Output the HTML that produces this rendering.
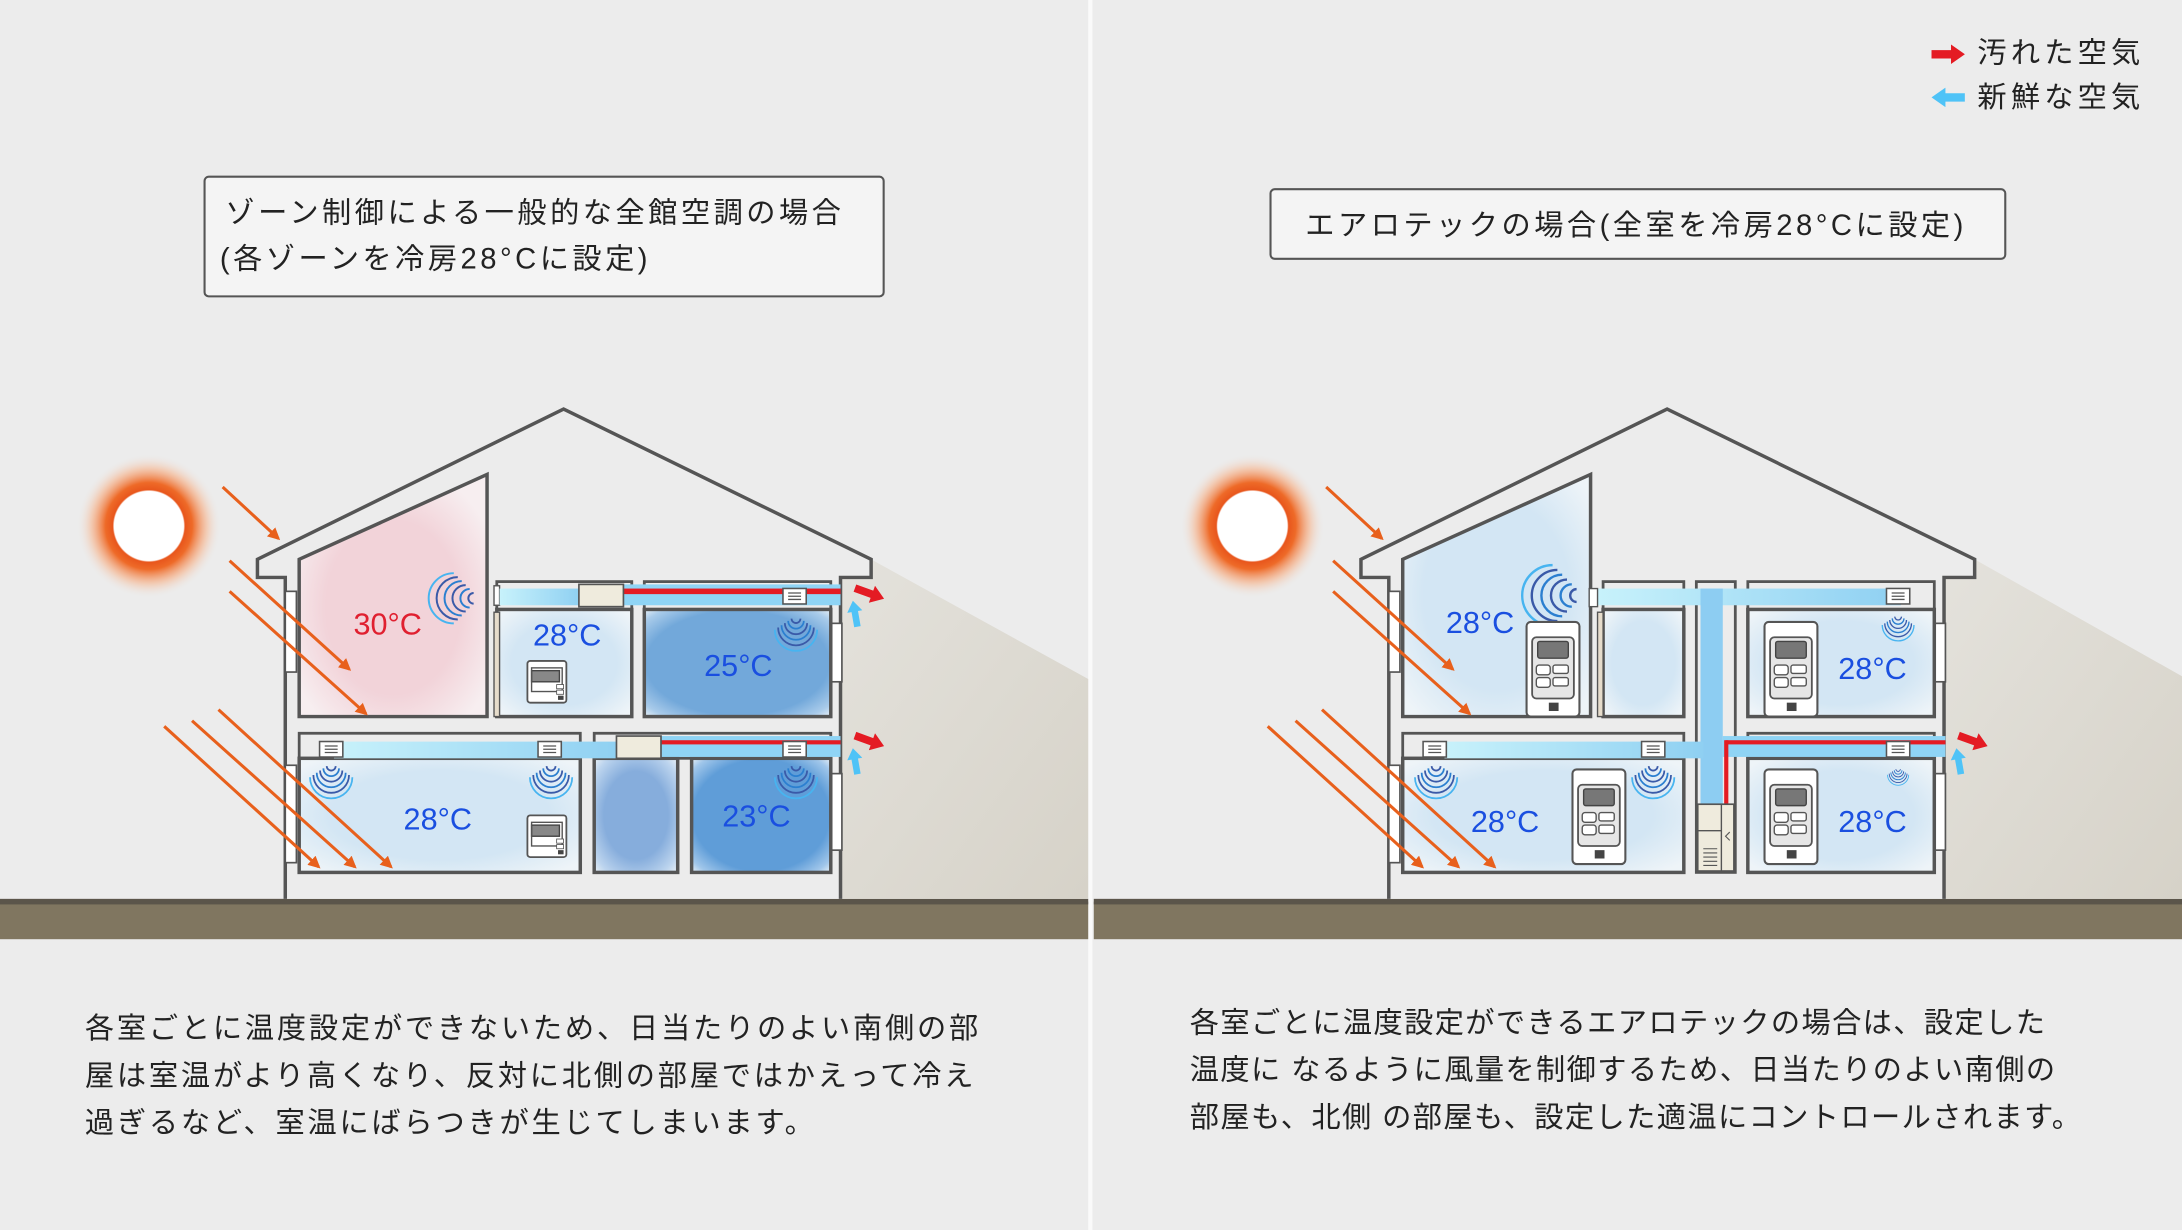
<!DOCTYPE html>
<html><head><meta charset="utf-8"><style>
html,body{margin:0;padding:0;background:#ececec;}
svg{display:block;}
text{font-family:"Liberation Sans","Noto Sans CJK JP",sans-serif;}
</style></head><body>
<svg width="2182" height="1230" viewBox="0 0 1568 884" preserveAspectRatio="none" xmlns="http://www.w3.org/2000/svg">
<defs>
<radialGradient id="sun"><stop offset="0.48" stop-color="#fff"/><stop offset="0.5" stop-color="#e8561c"/><stop offset="0.6" stop-color="#ee6a28"/><stop offset="0.8" stop-color="#f6b690" stop-opacity="0.6"/><stop offset="1" stop-color="#ececec" stop-opacity="0"/></radialGradient>
<linearGradient id="shadow" x1="0" y1="0" x2="1" y2="1"><stop offset="0" stop-color="#e4e2dc"/><stop offset="1" stop-color="#d6d2c8"/></linearGradient>
<radialGradient id="pink" cx="0.5" cy="0.55" r="0.6"><stop offset="0.6" stop-color="#f2d3d9"/><stop offset="1" stop-color="#f7eef0"/></radialGradient>
<radialGradient id="lb" r="0.65"><stop offset="0.6" stop-color="#d3e6f4"/><stop offset="1" stop-color="#eef4f8"/></radialGradient>
<radialGradient id="db" r="0.7"><stop offset="0.7" stop-color="#72a8da"/><stop offset="0.9" stop-color="#a9cbea"/><stop offset="1" stop-color="#e4eef6"/></radialGradient>
<radialGradient id="db2" r="0.7"><stop offset="0.7" stop-color="#5f9dd8"/><stop offset="0.9" stop-color="#a0c6ea"/><stop offset="1" stop-color="#e4eef6"/></radialGradient>
<radialGradient id="mb" r="0.7"><stop offset="0.55" stop-color="#86addc"/><stop offset="0.85" stop-color="#bcd4ee"/><stop offset="1" stop-color="#e8f0f6"/></radialGradient>
<linearGradient id="duct" x1="0" x2="1"><stop offset="0" stop-color="#c8f2fb"/><stop offset="1" stop-color="#8fd0f2"/></linearGradient>
<marker id="ah" viewBox="0 0 10 10" refX="8" refY="5" markerWidth="4" markerHeight="4" orient="auto"><path d="M0,0 L10,5 L0,10 z" fill="#e8601c"/></marker>
<symbol id="ctl" viewBox="0 0 40 70">
<rect x="1" y="1" width="38" height="68" rx="3" fill="#fff" stroke="#555" stroke-width="1.5"/>
<rect x="5" y="12" width="30" height="44" rx="3" fill="#e6e6e6" stroke="#555" stroke-width="1.3"/>
<rect x="9" y="15" width="22" height="12" rx="1.5" fill="#777" stroke="#444"/>
<rect x="8" y="32" width="10" height="7" rx="2" fill="#fff" stroke="#555"/><rect x="8" y="41" width="10" height="7" rx="2" fill="#fff" stroke="#555"/>
<rect x="20" y="32" width="11" height="6" rx="1.5" fill="#fff" stroke="#555"/><rect x="20" y="41" width="11" height="6" rx="1.5" fill="#fff" stroke="#555"/>
<rect x="17" y="59" width="7" height="6" fill="#444"/>
</symbol>
<symbol id="th" viewBox="0 0 30 32">
<rect x="1" y="1" width="28" height="30" rx="2" fill="#fff" stroke="#555" stroke-width="1.3"/>
<rect x="4" y="8" width="20" height="8" fill="#888" stroke="#444"/>
<rect x="4" y="6" width="22" height="17" fill="none" stroke="#555"/>
<rect x="22" y="18" width="5" height="3" fill="#fff" stroke="#555" stroke-width=".6"/>
<rect x="22" y="22" width="5" height="3" fill="#fff" stroke="#555" stroke-width=".6"/>
<rect x="23" y="26" width="4" height="3" fill="#444"/>
</symbol>
<symbol id="grille" viewBox="0 0 20 14"><rect x="1" y="1" width="18" height="12" fill="#fff" stroke="#555" stroke-width="1.2"/><path d="M5,4.5H15M5,7H15M5,9.5H15" stroke="#555" stroke-width="1"/></symbol>
<symbol id="wave" viewBox="0 0 40 30" overflow="visible">
<g fill="none" stroke-width="1.6">
<path d="M16,2 A4,4 0 0 0 24,2" stroke="#3a5aa8"/>
<path d="M13,4 A7,7 0 0 0 27,4" stroke="#2b7fd0"/>
<path d="M10,6 A10,10 0 0 0 30,6" stroke="#3a5aa8"/>
<path d="M7,8 A13,13 0 0 0 33,8" stroke="#2b7fd0"/>
<path d="M4,10 A16,16 0 0 0 36,10" stroke="#3a5aa8"/>
<path d="M1,12 A19,19 0 0 0 39,12" stroke="#47b4f0"/>
</g></symbol>
<symbol id="swave" viewBox="0 0 30 40" overflow="visible">
<g fill="none" stroke-width="1.5">
<path d="M28,16 A4,4 0 0 0 28,24" stroke="#3a5aa8"/>
<path d="M25,13 A7,7 0 0 0 25,27" stroke="#2b7fd0"/>
<path d="M22,10 A10,10 0 0 0 22,30" stroke="#3a5aa8"/>
<path d="M19,7 A13,13 0 0 0 19,33" stroke="#2b7fd0"/>
<path d="M16,4 A16,16 0 0 0 16,36" stroke="#3a5aa8"/>
<path d="M13,1 A19,19 0 0 0 13,39" stroke="#47b4f0"/>
</g></symbol>
<symbol id="redarr" viewBox="0 0 24 14"><path d="M0,4 H14 V0 L24,7 L14,14 V10 H0 z" fill="#e41b23"/></symbol>
<symbol id="bluearr" viewBox="0 0 24 14"><path d="M24,4 H10 V0 L0,7 L10,14 V10 H24 z" fill="#4fc3f7"/></symbol>
</defs>

<rect width="1568" height="884" fill="#ececec"/>
<rect x="782" y="0" width="3" height="884" fill="#fafafa"/>

<rect x="0" y="648" width="782" height="27" fill="#807660"/>
<rect x="0" y="646" width="782" height="4" fill="#5b554a"/>
<rect x="786" y="648" width="782" height="27" fill="#807660"/>
<rect x="786" y="646" width="782" height="4" fill="#5b554a"/>

<use href="#redarr" x="1388" y="32" width="24" height="14"/>
<use href="#bluearr" x="1388" y="63" width="24" height="14"/>
<text x="1421" y="45" font-size="21" fill="#222" letter-spacing="3">汚れた空気</text>
<text x="1421" y="77" font-size="21" fill="#222" letter-spacing="3">新鮮な空気</text>

<rect x="147" y="127" width="488" height="86" rx="3" fill="#f4f4f4" stroke="#555" stroke-width="1.5"/>
<text x="162" y="160" font-size="21" fill="#222" letter-spacing="2.5">ゾーン制御による一般的な全館空調の場合</text>
<text x="158" y="193" font-size="21" fill="#222" letter-spacing="2.5">(各ゾーンを冷房28°Cに設定)</text>
<rect x="913" y="136" width="528" height="50" rx="3" fill="#f4f4f4" stroke="#555" stroke-width="1.5"/>
<text x="938" y="169" font-size="21" fill="#222" letter-spacing="2.5">エアロテックの場合(全室を冷房28°Cに設定)</text>

<g font-size="21" fill="#222">
<text x="61" y="746" letter-spacing="2">各室ごとに温度設定ができないため、日当たりのよい南側の部</text>
<text x="61" y="780" letter-spacing="2">屋は室温がより高くなり、反対に北側の部屋ではかえって冷え</text>
<text x="61" y="814" letter-spacing="2">過ぎるなど、室温にばらつきが生じてしまいます。</text>
<text x="855" y="742" letter-spacing="1.0">各室ごとに温度設定ができるエアロテックの場合は、設定した</text>
<text x="855" y="776" letter-spacing="1.0">温度に なるように風量を制御するため、日当たりのよい南側の</text>
<text x="855" y="810" letter-spacing="1.0">部屋も、北側 の部屋も、設定した適温にコントロールされます。</text>
</g>

<!-- LEFT HOUSE -->
<g>
<polygon points="626,402 782,488 782,646 604,646 604,415 626,415" fill="url(#shadow)"/>
<circle cx="107" cy="378" r="52" fill="url(#sun)"/>
<path d="M205,646 V415 H185 V402 L405,294 L626,402 V415 H604 V646" fill="#ececec" stroke="#555" stroke-width="2.5"/>
<g fill="#fff" stroke="#555" stroke-width="1.2">
<rect x="205" y="425" width="8" height="58"/><rect x="205" y="550" width="8" height="70"/>
<rect x="597" y="448" width="8" height="42"/><rect x="597" y="556" width="8" height="55"/>
</g>
<polygon points="215,402 350,341 350,515 215,515" fill="url(#pink)" stroke="#555" stroke-width="2.5"/>
<rect x="357" y="418" width="97" height="20" fill="#ececec" stroke="#555" stroke-width="2"/>
<rect x="463" y="418" width="134" height="20" fill="#ececec" stroke="#555" stroke-width="2"/>
<rect x="357" y="438" width="97" height="77" fill="url(#lb)" stroke="#555" stroke-width="2.5"/>
<rect x="463" y="438" width="134" height="77" fill="url(#db)" stroke="#555" stroke-width="2.5"/>
<rect x="355" y="440" width="4" height="75" fill="#e6dccb" stroke="#555" stroke-width="1"/>
<rect x="215" y="527" width="202" height="18" fill="#ececec" stroke="#555" stroke-width="2"/>
<rect x="427" y="527" width="170" height="18" fill="#ececec" stroke="#555" stroke-width="2"/>
<rect x="215" y="545" width="202" height="82" fill="url(#lb)" stroke="#555" stroke-width="2.5"/>
<rect x="427" y="545" width="60" height="82" fill="url(#mb)" stroke="#555" stroke-width="2.5"/>
<rect x="497" y="545" width="100" height="82" fill="url(#db2)" stroke="#555" stroke-width="2.5"/>
<rect x="355" y="421" width="4" height="14" fill="#fff" stroke="#555"/>
<rect x="359" y="423" width="58" height="12" fill="url(#duct)"/>
<rect x="447" y="420" width="157" height="15" fill="#8fd4f5"/>
<rect x="447" y="423" width="157" height="4" fill="#e41b23"/>
<rect x="416" y="420" width="32" height="16" fill="#efebdd" stroke="#555" stroke-width="1.2"/>
<use href="#grille" x="561" y="422" width="20" height="13"/>
<rect x="240" y="533" width="205" height="12" fill="url(#duct)"/>
<rect x="475" y="529" width="129" height="15" fill="#8fd4f5"/>
<rect x="475" y="532" width="129" height="3" fill="#e41b23"/>
<rect x="443" y="529" width="32" height="16" fill="#efebdd" stroke="#555" stroke-width="1.2"/>
<use href="#grille" x="228" y="532" width="20" height="13"/>
<use href="#grille" x="385" y="532" width="20" height="13"/>
<use href="#grille" x="561" y="532" width="20" height="13"/>
<use href="#swave" x="313" y="411" width="30" height="38"/>
<use href="#wave" x="556" y="442" width="32" height="26"/>
<use href="#wave" x="222" y="548" width="32" height="26"/>
<use href="#wave" x="380" y="548" width="32" height="26"/>
<use href="#wave" x="556" y="548" width="32" height="26"/>
<use href="#th" x="378" y="474" width="30" height="32"/>
<use href="#th" x="378" y="585" width="30" height="32"/>
<use href="#redarr" x="613" y="420" width="24" height="13" transform="rotate(20 625 426)"/>
<use href="#redarr" x="613" y="526" width="24" height="13" transform="rotate(20 625 532)"/>
<use href="#bluearr" x="605" y="436" width="20" height="11" transform="rotate(80 615 441)"/>
<use href="#bluearr" x="605" y="542" width="20" height="11" transform="rotate(80 615 547)"/>
<g font-size="22">
<text x="254" y="456" fill="#e02030">30°C</text>
<text x="383" y="464" fill="#1a4fe0">28°C</text>
<text x="506" y="486" fill="#1a4fe0">25°C</text>
<text x="290" y="596" fill="#1a4fe0">28°C</text>
<text x="519" y="594" fill="#1a4fe0">23°C</text>
</g>
<g stroke="#e8601c" stroke-width="2.2" marker-end="url(#ah)">
<line x1="160" y1="350" x2="200" y2="387"/>
<line x1="165" y1="403" x2="251" y2="481"/>
<line x1="165" y1="425" x2="263" y2="513"/>
<line x1="118" y1="522" x2="229" y2="623"/>
<line x1="138" y1="518" x2="255" y2="623"/>
<line x1="157" y1="510" x2="281" y2="623"/>
</g>
</g>

<!-- RIGHT HOUSE -->
<g>
<polygon points="1419,402 1568,486 1568,646 1397,646 1397,415 1419,415" fill="url(#shadow)"/>
<circle cx="900" cy="378" r="52" fill="url(#sun)"/>
<path d="M998,646 V415 H978 V402 L1198,294 L1419,402 V415 H1397 V646" fill="#ececec" stroke="#555" stroke-width="2.5"/>
<g fill="#fff" stroke="#555" stroke-width="1.2">
<rect x="998" y="425" width="8" height="58"/><rect x="998" y="550" width="8" height="70"/>
<rect x="1390" y="448" width="8" height="42"/><rect x="1390" y="556" width="8" height="55"/>
</g>
<polygon points="1008,402 1143,341 1143,515 1008,515" fill="url(#lb)" stroke="#555" stroke-width="2.5"/>
<rect x="1152" y="418" width="58" height="20" fill="#ececec" stroke="#555" stroke-width="2"/>
<rect x="1219" y="418" width="28" height="209" fill="#ececec" stroke="#555" stroke-width="2"/>
<rect x="1256" y="418" width="134" height="20" fill="#ececec" stroke="#555" stroke-width="2"/>
<rect x="1152" y="438" width="58" height="77" fill="url(#lb)" stroke="#555" stroke-width="2.5"/>
<rect x="1256" y="438" width="134" height="77" fill="url(#lb)" stroke="#555" stroke-width="2.5"/>
<rect x="1148" y="440" width="4" height="75" fill="#e6dccb" stroke="#555" stroke-width="1"/>
<rect x="1008" y="527" width="202" height="18" fill="#ececec" stroke="#555" stroke-width="2"/>
<rect x="1256" y="527" width="134" height="18" fill="#ececec" stroke="#555" stroke-width="2"/>
<rect x="1008" y="545" width="202" height="82" fill="url(#lb)" stroke="#555" stroke-width="2.5"/>
<rect x="1256" y="545" width="134" height="82" fill="url(#lb)" stroke="#555" stroke-width="2.5"/>
<rect x="1146" y="423" width="220" height="12" fill="url(#duct)"/>
<rect x="1222" y="423" width="16" height="155" fill="#8dcdf2"/>
<rect x="1038" y="533" width="186" height="12" fill="url(#duct)"/>
<rect x="1238" y="529" width="160" height="15" fill="#8fd4f5"/>
<rect x="1240" y="532" width="158" height="3" fill="#e41b23"/>
<rect x="1239" y="532" width="3" height="46" fill="#e41b23"/>
<rect x="1142" y="423" width="6" height="13" fill="#fff" stroke="#555"/>
<rect x="1220" y="578" width="26" height="48" fill="#efebdd" stroke="#555" stroke-width="1.2"/>
<path d="M1220,597 H1237 M1237,578 V626" stroke="#555" stroke-width="1"/>
<path d="M1224,610 H1234 M1224,613 H1234 M1224,616 H1234 M1224,619 H1234 M1224,622 H1234" stroke="#555" stroke-width="0.8"/>
<path d="M1243,598 L1240,601 L1243,604" stroke="#555" fill="none" stroke-width="0.8"/>
<use href="#grille" x="1354" y="422" width="20" height="13"/>
<use href="#grille" x="1021" y="532" width="20" height="13"/>
<use href="#grille" x="1178" y="532" width="20" height="13"/>
<use href="#grille" x="1354" y="532" width="20" height="13"/>
<use href="#swave" x="1100" y="405" width="36" height="46"/>
<use href="#wave" x="1352" y="442" width="24" height="18"/>
<use href="#wave" x="1016" y="548" width="32" height="26"/>
<use href="#wave" x="1172" y="548" width="32" height="26"/>
<use href="#wave" x="1356" y="552" width="16" height="12"/>
<use href="#ctl" x="1096" y="446" width="40" height="70"/>
<use href="#ctl" x="1267" y="446" width="40" height="70"/>
<use href="#ctl" x="1129" y="552" width="40" height="70"/>
<use href="#ctl" x="1267" y="552" width="40" height="70"/>
<use href="#redarr" x="1406" y="526" width="24" height="13" transform="rotate(20 1418 532)"/>
<use href="#bluearr" x="1398" y="542" width="20" height="11" transform="rotate(80 1408 547)"/>
<g font-size="22" fill="#1a4fe0">
<text x="1039" y="455">28°C</text>
<text x="1321" y="488">28°C</text>
<text x="1057" y="598">28°C</text>
<text x="1321" y="598">28°C</text>
</g>
<g stroke="#e8601c" stroke-width="2.2" marker-end="url(#ah)">
<line x1="953" y1="350" x2="993" y2="387"/>
<line x1="958" y1="403" x2="1044" y2="481"/>
<line x1="958" y1="425" x2="1056" y2="513"/>
<line x1="911" y1="522" x2="1022" y2="623"/>
<line x1="931" y1="518" x2="1048" y2="623"/>
<line x1="950" y1="510" x2="1074" y2="623"/>
</g>
</g>
</svg>
</body></html>
